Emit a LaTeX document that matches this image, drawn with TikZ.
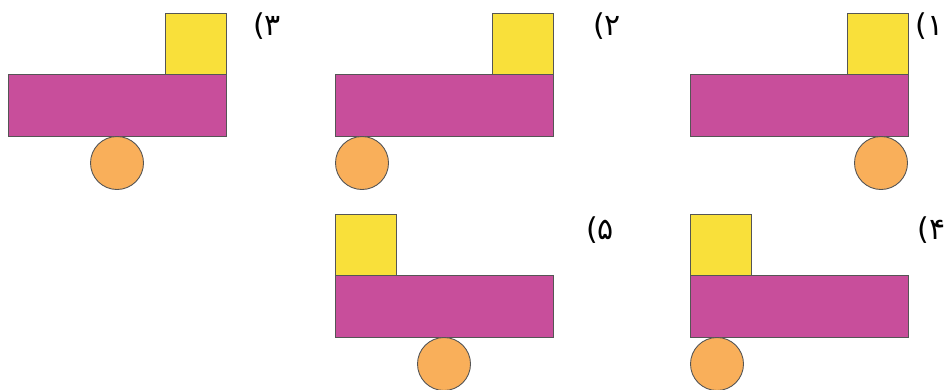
\documentclass[tikz,border=0pt]{standalone}
\usepackage{fontspec}
\newfontfamily\arabicfont[Script=Arabic]{DejaVu Sans}
\usetikzlibrary{calc}
\definecolor{barcol}{HTML}{C84E9B}
\definecolor{boxcol}{HTML}{F9E03A}
\definecolor{ballcol}{HTML}{F9AF5A}
\definecolor{edgecol}{HTML}{555555}
\tikzset{
  bar/.style={fill=barcol,draw=edgecol,line width=0.9pt},
  box/.style={fill=boxcol,draw=edgecol,line width=0.9pt},
  ball/.style={fill=ballcol,draw=edgecol,line width=0.9pt},
  numlabel/.style={anchor=west,inner sep=0pt,font=\arabicfont\fontsize{30}{34}\selectfont}
}
\begin{document}
\begin{tikzpicture}[x=1pt,y=-1pt]
\useasboundingbox (0,0) rectangle (949,389);
% bar corners (top left), box x, ball x
\foreach \bx/\by/\sx/\cx in {8/74/165/117, 335/74/492/362, 690/74/847/881, 335/275/335/444, 690/275/690/717}{
  \draw[box] (\sx,\by-61) rectangle (\sx+61,\by);
  \draw[bar] (\bx,\by) rectangle (\bx+218,\by+62);
  \draw[ball] (\cx,\by+89) circle (26.5);
}
\node[numlabel] (n3) at (253,26) {۳)};
\node[numlabel] (n2) at (593,26) {۲)};
\node[numlabel,anchor=east] (n1) at (944,26) {۱)};
\node[numlabel] (n5) at (586,230) {۵)};
\node[numlabel,anchor=east] (n4) at (946,230) {۴)};
\end{tikzpicture}
\end{document}
